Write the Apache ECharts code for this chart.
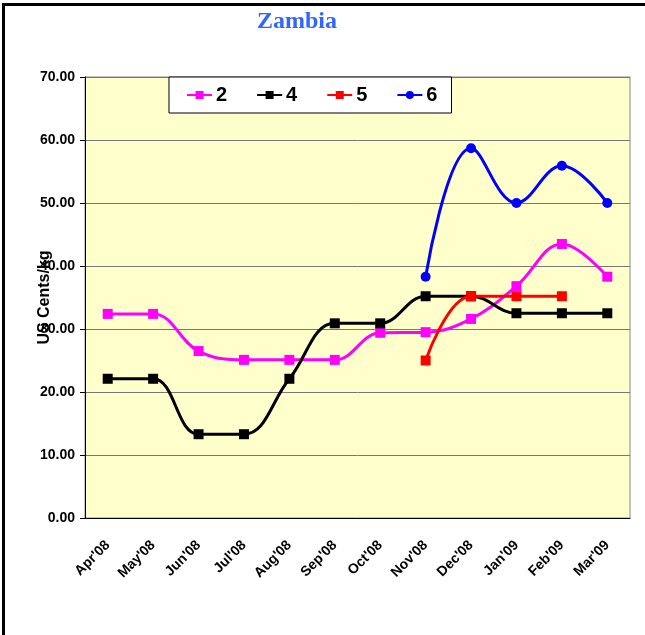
<!DOCTYPE html>
<html>
<head>
<meta charset="utf-8">
<script src="https://cdn.jsdelivr.net/npm/echarts/dist/echarts.min.js"></script>
<style>
  body { margin: 0; background: #fff; }
  #chart { position: absolute; left: 0; top: 0; width: 645px; height: 635px; }
  .frame { position: absolute; left: 2px; top: 3px; right: 0; bottom: 0;
           border-left: 3px solid #000; border-top: 3px solid #000; pointer-events: none; }
  .frame:before { content: ''; position: absolute; left: -3px; top: -3px; width: 3px; height: 3px; background: #000; }
</style>
</head>
<body>
<div id="chart"></div>
<div class="frame"></div>
<script>
// months along the x axis
const months = ["Apr'08", "May'08", "Jun'08", "Jul'08", "Aug'08", "Sep'08",
  "Oct'08", "Nov'08", "Dec'08", "Jan'09", "Feb'09", "Mar'09"]

// US cents/kg per grade
const grade2 = [32.4, 32.4, 26.5, 25.1, 25.1, 25.1, 29.4, 29.5, 31.6, 36.8, 43.5, 38.3]
const grade4 = [22.1, 22.1, 13.3, 13.3, 22.1, 30.9, 30.9, 35.2, 35.2, 32.5, 32.5, 32.5]
const grade5 = [null, null, null, null, null, null, null, 25.0, 35.2, 35.2, 35.2, null]
const grade6 = [null, null, null, null, null, null, null, 38.3, 58.7, 50.0, 55.9, 50.0]

const seriesNames = ['2', '4', '5', '6']
const seriesColors = ['#FF00FF', '#000000', '#FF0000', '#0000FF']
const seriesSymbols = ['rect', 'rect', 'rect', 'circle']
const seriesData = [grade2, grade4, grade5, grade6]

const chart = echarts.init(document.getElementById('chart'))

const option = {
  animation: false,
  title: {
    text: 'Zambia',
    left: 252,
    top: 5,
    textStyle: {
      fontFamily: 'Liberation Serif',
      fontWeight: 'bold',
      fontSize: 24,
      color: '#3366FF'
    }
  },
  legend: {
    left: 169,
    top: 77,
    padding: [8, 14, 8, 17],
    itemGap: 29,
    itemWidth: 25,
    itemHeight: 10,
    backgroundColor: '#fff',
    borderColor: '#000',
    borderWidth: 1,
    textStyle: {
      fontFamily: 'Liberation Sans',
      fontWeight: 'bold',
      fontSize: 20,
      color: '#000',
      padding: [0, 0, 0, -1]
    },
    data: seriesNames
  },
  grid: {
    left: 85,
    right: 15,
    top: 77,
    bottom: 117,
    show: true,
    backgroundColor: '#FFFFCC',
    borderColor: '#888',
    borderWidth: 1
  },
  xAxis: {
    type: 'category',
    data: months,
    boundaryGap: true,
    axisLine: { lineStyle: { color: '#000', width: 1 } },
    axisTick: { length: 5, lineStyle: { color: '#000' } },
    axisLabel: {
      rotate: 45,
      interval: 0,
      margin: 25,
      fontFamily: 'Liberation Sans',
      fontWeight: 'bold',
      fontSize: 14,
      color: '#000'
    }
  },
  yAxis: {
    type: 'value',
    min: 0,
    max: 70,
    interval: 10,
    name: 'US Cents/kg',
    nameLocation: 'middle',
    nameGap: 32,
    nameMoveOverlap: false,
    nameTextStyle: {
      fontFamily: 'Liberation Sans',
      fontWeight: 'bold',
      fontSize: 16,
      color: '#000'
    },
    axisLine: { show: true, lineStyle: { color: '#000', width: 1 } },
    axisTick: { show: true, length: 5, lineStyle: { color: '#000' } },
    splitLine: { lineStyle: { color: '#777', width: 1 } },
    axisLabel: {
      margin: 10,
      fontFamily: 'Liberation Sans',
      fontWeight: 'bold',
      fontSize: 14,
      color: '#000',
      formatter: v => v.toFixed(2)
    }
  },
  series: seriesNames.map((name, i) => ({
    name: name,
    type: 'line',
    data: seriesData[i],
    smooth: 0.4,
    connectNulls: false,
    symbol: seriesSymbols[i],
    symbolSize: 10,
    lineStyle: { color: seriesColors[i], width: 3 },
    itemStyle: { color: seriesColors[i] }
  }))
}

chart.setOption(option)
</script>
</body>
</html>
